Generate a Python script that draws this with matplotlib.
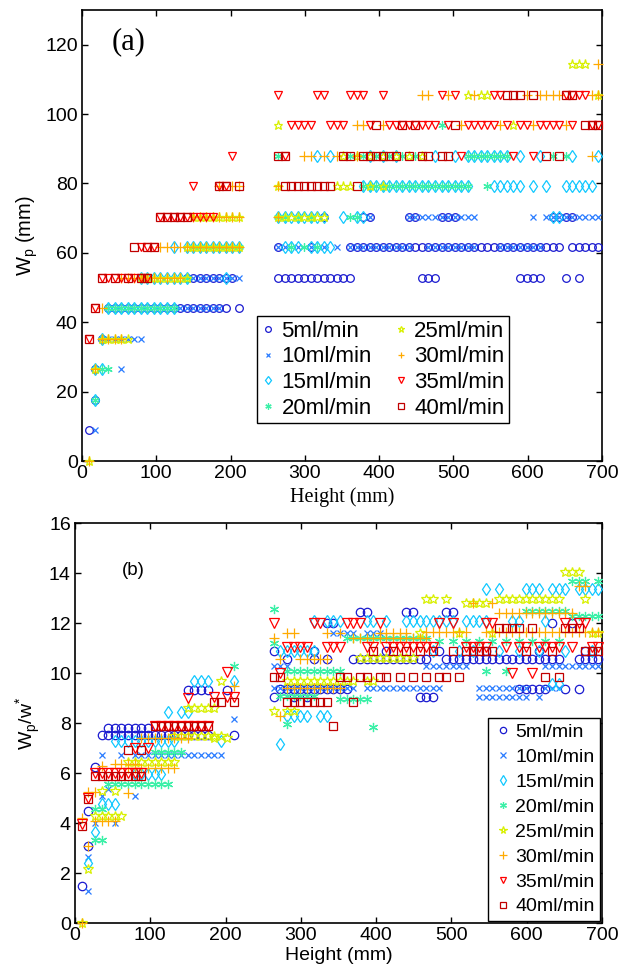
import numpy as np
import matplotlib
matplotlib.use("Agg")
import matplotlib.pyplot as plt

# ---------------------------------------------------------------- data
PIX = 8.8  # mm per image pixel: heights and widths are multiples of it

labels = ["5ml/min", "10ml/min", "15ml/min", "20ml/min",
          "25ml/min", "30ml/min", "35ml/min", "40ml/min"]

# Panel (a): width level m (Wp = m*PIX) -> sample indices k (height = k*PIX)
wp_5 = {1: "1", 2: "2", 3: "2", 4: "3", 5: "4-22,24",
        6: "16-23,30-41,52-54,67-70,74,76",
        7: "30,35,41-73,75-79", 8: "37,43,44,50,51,55-57,72-75"}
wp_10 = {1: "2", 3: "6", 4: "3-9", 5: "4-21", 6: "17-24",
         7: "30,31,33,35,37,39,41-50,53-60,64-70",
         8: "44,50-60,69,71-79"}
wp_15 = {2: "2", 3: "2,3", 4: "3", 5: "4-14", 6: "9-16,22",
         7: "14,16-24,31-33,35-38", 8: "30-37,40,42,43,72,73",
         9: "43-59,63-67,69,71,74-78",
         10: "36,38,44,46,48,54,57,59-65,67,70,75,79"}
wp_20 = {2: "2", 3: "3,4", 5: "4-14", 6: "16", 7: "17-24,32,34,36",
         8: "30,31,33,35,41,42", 9: "43-59,62",
         10: "30,41,43,45,47,49,51,59-65,72,74", 11: "55"}
wp_25 = {0: "1", 3: "2", 4: "3-7", 6: "9-16", 7: "16-24", 8: "17-24,30-37",
         9: "30,39-41,44,46", 10: "40,42,44,46,48,50,52", 11: "30,66",
         12: "59,61,62,79", 13: "75-77"}
wp_30 = {0: "1", 3: "2", 4: "3-6", 5: "3", 6: "6-15", 7: "12-24",
         8: "17-24,30", 9: "21,23,24,30", 10: "34,35,37,39,42,78",
         11: "42,43,46,58,64,69,74",
         12: "52,53,56,60,68,70-73,78,79", 13: "79"}
wp_35 = {4: "1", 5: "2", 6: "3-10", 7: "9-11", 8: "12-20", 9: "17,21,22",
         10: "23,31,58,66,69",
         11: "32-35,38-40,44,47-54,56,59-63,65,67,68,70-73,75,78,79",
         12: "30,36,37,41-43,46,55,57,63,64,74-77"}
wp_40 = {4: "1", 5: "2", 6: "3,5,7,9,10", 7: "8,10,11", 8: "12-16",
         9: "21,22,24,31-38,42",
         10: "30,31,40,41,43-48,50,52,53,55,56,71,73",
         11: "45,49,51,57,77-79", 12: "65-67,69,74,75"}

# Panel (b): Wp/w* value -> sample indices k (height = k*PIX)
rb_5 = {1.5: "1", 3.1: "2", 4.5: "2", 6.24: "3", 7.52: "4-20,24",
        7.79: "5-11", 9.33: "17-20,23", 12.45: "43,44,50,51,56,57",
        12.0: "38,39,72,75", 10.9: "30,36,47,55,62,70,77,78",
        10.55: "32,36,38,42-53,56-73,76-79",
        9.35: "31-41,67-71,74,76", 9.05: "30,33,35,52-54"}
rb_10 = {1.3: "2", 2.65: "2", 4.0: "3,6", 5.1: "4,9", 5.35: "5",
         6.72: "4,7,9-22", 8.15: "24", 10.3: "30-32,53-59,71-79",
         11.6: "39-42,44-46", 9.39: "30-42,44-55,61-68,71-73",
         9.05: "61-68,70"}
rb_15 = {2.4: "2", 3.65: "3", 4.75: "4-6", 5.95: "9-13", 7.3: "6-15,22",
         8.45: "14,16,17", 9.67: "18-20,24", 7.16: "31",
         8.3: "32-35,37,38", 10.9: "31-36,54,58,60,64,67,70,74,78",
         12.1: "36,38-40,44,45,47,50-57,59-62,66,67,71",
         13.35: "62,64,68-70,72-74,76-79", 9.55: "72,73"}
rb_20 = {3.32: "3,4", 4.55: "3,4", 5.58: "5-14", 6.85: "12-16",
         10.3: "24", 12.55: "30", 11.2: "30", 11.4: "41-53",
         10.1: "32-40,62,65", 9.08: "31-36", 8.95: "40-44", 7.96: "32",
         7.83: "45", 12.5: "68-74", 13.7: "75-77,79", 12.3: "75-79",
         11.3: "55,57,59,61,63,65,67,69,71,73"}
rb_25 = {0.0: "1", 2.15: "2", 4.3: "3-7", 5.3: "4,6", 6.45: "8-15",
         7.5: "15-22", 7.4: "21,23", 8.62: "17-21",
         9.7: "22,32-42,44,45", 8.5: "30,32,33", 10.6: "43-51",
         12.95: "53,54,56,64-73,77", 12.8: "59-62", 14.05: "74-76",
         11.6: "52,58,63,78,79"}
rb_30 = {0.0: "1", 3.1: "2", 4.2: "1", 4.1: "3-6", 5.25: "2,3", 5.2: "8",
         6.3: "4", 6.35: "6-9", 6.2: "8-15", 7.4: "10-17", 9.5: "24",
         11.6: "32,33,38,40,46-50", 11.4: "30,42-53", 10.55: "31,34-38",
         9.4: "32-40", 8.28: "31", 12.8: "60,63", 12.4: "64-75",
         13.5: "76,77", 11.65: "53-59,62-79"}
rb_35 = {3.95: "1", 5.0: "2", 6.0: "3-10", 7.0: "9,11", 7.88: "12-20",
         9.0: "17", 9.05: "21,23,24", 10.03: "23",
         12.01: "30,36,37,41-43,46,55,57,62,63,74,76,77",
         11.05: "32-35,38-40,44,45,47-54,59-62,65,67,68,70-73,75,78,79",
         10.0: "31,66,69"}
rb_40 = {3.9: "1", 4.95: "2", 5.9: "3-10", 6.92: "8,10",
         7.88: "12-20,39", 8.85: "21,22,24,32-38,42",
         9.83: "30,31,40,41,43,44,46,47,49,51,53,55,56,58,71,73",
         11.8: "64-67,69,74-76",
         10.9: "45,48,50,52,54,57,59-63,68,72,77-79"}

panel_a = [wp_5, wp_10, wp_15, wp_20, wp_25, wp_30, wp_35, wp_40]
panel_b = [rb_5, rb_10, rb_15, rb_20, rb_25, rb_30, rb_35, rb_40]

# ---------------------------------------------------------------- style
colors = ["#1a1ad0", "#2a7cff", "#10c8ff", "#3cf0a8",
          "#d8f000", "#ffaa00", "#ff0000", "#c00000"]
markers = ["o", "x", "d", (6, 2, 0), "*", "+", "v", "s"]
msizes = [5.5, 4.5, 6.0, 6.0, 6.5, 6.5, 6.0, 5.5]


def parse_ks(spec):
    out = []
    for part in spec.split(","):
        if "-" in part:
            a, b = part.split("-")
            out.extend(range(int(a), int(b) + 1))
        else:
            out.append(int(part))
    return out


def points(rows, scale_y):
    xs, ys = [], []
    for level, spec in rows.items():
        for k in parse_ks(spec):
            xs.append(k * PIX)
            ys.append(level * scale_y)
    return np.array(xs), np.array(ys)


SANS = "Liberation Sans"
SERIF = "Liberation Serif"
plt.rcParams["font.family"] = SANS

fig = plt.figure(figsize=(6.18, 9.71), dpi=100)
W, H = 618.0, 971.0
ax1 = fig.add_axes([82 / W, 1 - 461 / H, 520 / W, 451 / H])
ax2 = fig.add_axes([75 / W, 1 - 923 / H, 527 / W, 400 / H])


def draw(ax, data, scale_y, ms_scale):
    handles = []
    for i, rows in enumerate(data):
        x, y = points(rows, scale_y)
        h, = ax.plot(x, y, linestyle="none", marker=markers[i],
                     markersize=msizes[i] * ms_scale,
                     markerfacecolor="none", markeredgecolor=colors[i],
                     color=colors[i], markeredgewidth=0.9,
                     label=labels[i], clip_on=False, zorder=3 + i)
        handles.append(h)
    return handles


def style(ax):
    ax.tick_params(direction="in", top=True, right=True, length=4.5,
                   width=1.0, labelsize=14, pad=3)
    for sp in ax.spines.values():
        sp.set_linewidth(1.2)
    for t in ax.get_xticklabels() + ax.get_yticklabels():
        t.set_fontfamily(SANS)


# ---- panel (a)
h1 = draw(ax1, panel_a, PIX, 1.0)
ax1.set_xlim(0, 700)
ax1.set_ylim(0, 130)
ax1.set_xticks(np.arange(0, 701, 100))
ax1.set_yticks(np.arange(0, 121, 20))
style(ax1)
ax1.set_xlabel("Height (mm)", fontfamily=SERIF, fontsize=14.5, labelpad=4)
ax1.set_ylabel("W$_\\mathregular{p}$ (mm)", fontsize=14.5, labelpad=4)
ax1.text(40, 121, "(a)", fontfamily=SERIF, fontsize=22, va="center")
leg1 = ax1.legend(handles=h1, ncol=2, loc="lower left",
                  bbox_to_anchor=(0.3365, 0.084), fontsize=16,
                  frameon=True, fancybox=False, edgecolor="black",
                  framealpha=1, borderpad=0.2, labelspacing=0.21,
                  handlelength=0.6, handletextpad=0.3, columnspacing=1.0,
                  markerscale=0.75, borderaxespad=0)
leg1.get_frame().set_linewidth(1.0)

# ---- panel (b)
h2 = draw(ax2, panel_b, 1.0, 1.1)
ax2.set_xlim(0, 700)
ax2.set_ylim(0, 16)
ax2.set_xticks(np.arange(0, 701, 100))
ax2.set_yticks(np.arange(0, 17, 2))
style(ax2)
ax2.set_xlabel("Height (mm)", fontsize=14, labelpad=2)
ax2.set_ylabel("W$_\\mathregular{p}$/w$^\\mathregular{*}$", fontsize=14,
               labelpad=4)
ax2.text(62, 14.1, "(b)", fontsize=13.5, va="center")
leg2 = ax2.legend(handles=h2, ncol=1, loc="lower right",
                  bbox_to_anchor=(1.0, 0.0), fontsize=14,
                  frameon=True, fancybox=False, edgecolor="black",
                  framealpha=1, borderpad=0.29, labelspacing=0.375,
                  handlelength=0.93, handletextpad=0.15,
                  markerscale=0.75, borderaxespad=0.1)
leg2.get_frame().set_linewidth(1.0)

fig.savefig("out.png", dpi=100)
